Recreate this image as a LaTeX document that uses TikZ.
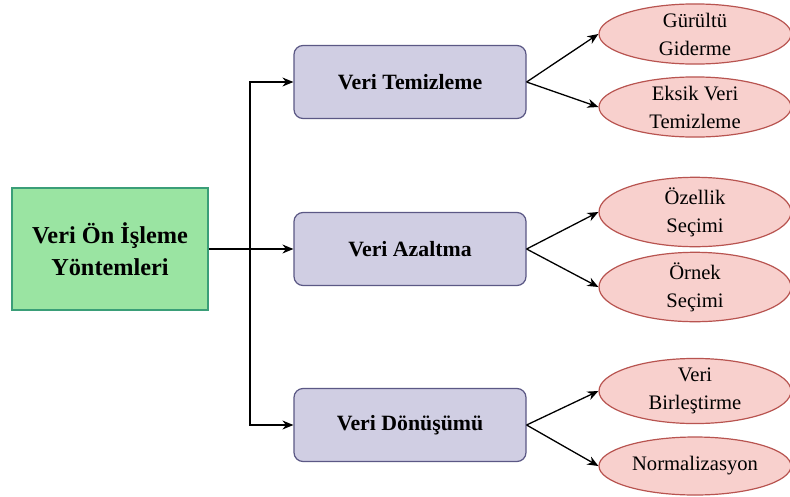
\documentclass[tikz,border=0pt]{standalone}
\usepackage{fontspec}
\setmainfont{Liberation Serif}
\usetikzlibrary{arrows.meta,shapes.geometric}
\definecolor{rootfill}{HTML}{9AE4A2}
\definecolor{rootdraw}{HTML}{3A9E78}
\definecolor{catfill}{HTML}{D0CEE3}
\definecolor{catdraw}{HTML}{5B5885}
\definecolor{leaffill}{HTML}{F8D0CD}
\definecolor{leafdraw}{HTML}{B85450}
\begin{document}
\begin{tikzpicture}[x=1pt,y=-1pt,
  rootbox/.style={draw=rootdraw,fill=rootfill,line width=1.2pt,minimum width=196pt,minimum height=122pt,align=center,inner sep=0pt,
    font=\fontsize{24.3}{32}\selectfont\bfseries},
  catbox/.style={draw=catdraw,fill=catfill,line width=1.2pt,rounded corners=9pt,minimum width=232pt,minimum height=73pt,align=center,inner sep=0pt,
    font=\fontsize{21.8}{26}\selectfont\bfseries},
  leaf/.style={ellipse,draw=leafdraw,fill=leaffill,line width=1.2pt,minimum width=192pt,minimum height=58pt,align=center,inner sep=0pt,
    font=\fontsize{20.6}{28}\selectfont},
  link/.style={line width=1.3pt,-{Stealth[length=11pt,width=9pt]}}]
\useasboundingbox (0,0) rectangle (790,496);
\fill[white] (0,0) rectangle (790,496);

\node[rootbox] (root) at (110,249) {Veri Ön İşleme\\Yöntemleri};

\node[catbox] (clean) at (410,82) {Veri Temizleme};
\node[catbox] (reduce) at (410,249) {Veri Azaltma};
\node[catbox] (trans) at (410,425) {Veri Dönüşümü};

\node[leaf] (noise) at (695,34) {Gürültü\\Giderme};
\node[leaf] (missing) at (695,107) {Eksik Veri\\Temizleme};
\node[leaf] (feat) at (695,212) {Özellik\\Seçimi};
\node[leaf] (sample) at (695,287) {Örnek\\Seçimi};
\node[leaf] (merge) at (695,391) {Veri\\Birleştirme};
\node[leaf] (norm) at (695,466) {Normalizasyon};

\coordinate (bus) at (250,249);
\draw[link] (root.east) -- (reduce.west);
\draw[link] (bus) |- (clean.west);
\draw[link] (bus) |- (trans.west);

\foreach \c/\a/\b in {clean/noise/missing,reduce/feat/sample,trans/merge/norm}{
  \draw[link] (\c.east) -- (\a.west);
  \draw[link] (\c.east) -- (\b.west);
}
\end{tikzpicture}
\end{document}
